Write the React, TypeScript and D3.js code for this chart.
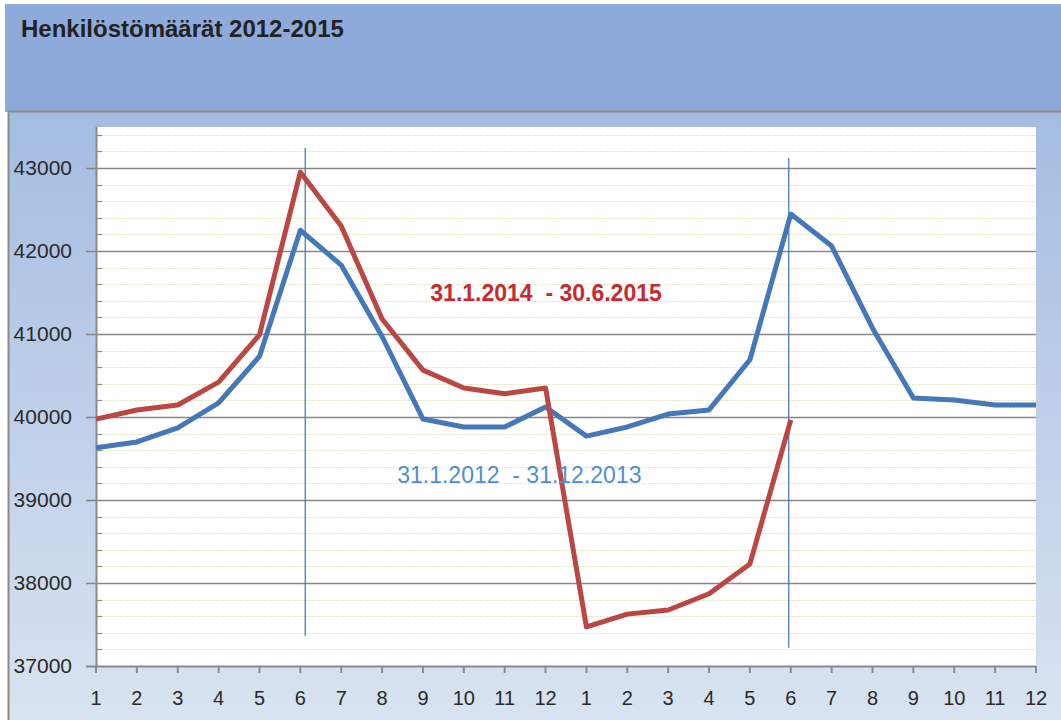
import { useEffect, useRef } from 'react';
import * as d3 from 'd3';

// Month labels along the x axis (two years side by side)
const monthLabels = ['1', '2', '3', '4', '5', '6', '7', '8', '9', '10', '11', '12',
    '1', '2', '3', '4', '5', '6', '7', '8', '9', '10', '11', '12'];

// 31.1.2012 - 31.12.2013
const blueValues = [39630, 39700, 39870, 40170, 40730, 42250, 41830, 40970, 39975, 39880, 39880, 40120,
    39770, 39880, 40035, 40085, 40690, 42445, 42060, 41070, 40230, 40205, 40145, 40145];

// 31.1.2014 - 30.6.2015
const redValues = [39975, 40085, 40145, 40420, 40990, 42950, 42300, 41180, 40565, 40350, 40280, 40350,
    37470, 37625, 37675, 37870, 38230, 39965];

const yMajorTicks = [37000, 38000, 39000, 40000, 41000, 42000, 43000];
const yMinorTicks = d3.range(37200, 43500, 200).filter((v) => v % 1000 !== 0);

// vertical marker lines: [category position, top value, bottom value]
const markers: [number, number, number][] = [
    [5.12, 43240, 37360],
    [16.95, 43120, 37220],
];

const seriesLabels = [
    { text: '31.1.2014  - 30.6.2015', pos: 8.18, value: 41400, color: '#c62a30', bold: true },
    { text: '31.1.2012  - 31.12.2013', pos: 7.37, value: 39200, color: '#4f8fd0', bold: false },
];

const title = 'Henkilöstömäärät 2012-2015';

export default function App() {
    const svgRef = useRef<SVGSVGElement>(null);
    const width = 1061;
    const height = 720;

    useEffect(() => {
        if (!svgRef.current) return;
        const svg = d3.select(svgRef.current);
        svg.selectAll('*').remove();

        const plot = { left: 96, right: 1036, top: 127, bottom: 666 };

        const x = d3.scaleLinear().domain([0, monthLabels.length - 1]).range([plot.left, plot.right]);
        const y = d3.scaleLinear().domain([37000, 43000]).range([plot.bottom, 168]);

        const defs = svg.append('defs');
        const grad = defs.append('linearGradient').attr('id', 'panelGrad').attr('x1', 0).attr('y1', 0).attr('x2', 0).attr('y2', 1);
        grad.append('stop').attr('offset', '0%').attr('stop-color', '#a4bce1');
        grad.append('stop').attr('offset', '100%').attr('stop-color', '#d9e3f1');

        // Header band
        svg.append('rect').attr('x', 0).attr('y', 0).attr('width', width).attr('height', height).attr('fill', '#ffffff');
        svg.append('rect').attr('x', 5).attr('y', 4).attr('width', width - 5).attr('height', 108).attr('fill', '#8eaadb');
        svg.append('text')
            .attr('x', 21)
            .attr('y', 37)
            .attr('font-family', 'Liberation Sans, Arial, sans-serif')
            .attr('font-size', 24)
            .attr('font-weight', 'bold')
            .attr('fill', '#222')
            .text(title);

        // Lower panel
        svg.append('rect').attr('x', 8).attr('y', 111).attr('width', width - 8).attr('height', height - 111).attr('fill', 'url(#panelGrad)');
        svg.append('path')
            .attr('d', `M8.5,${height} V111.5 H${width}`)
            .attr('fill', 'none')
            .attr('stroke', '#8a8a8a')
            .attr('stroke-width', 2);

        // Plot area
        svg.append('rect')
            .attr('x', plot.left)
            .attr('y', plot.top)
            .attr('width', plot.right - plot.left)
            .attr('height', plot.bottom - plot.top)
            .attr('fill', '#ffffff');

        const g = svg.append('g');

        // Minor gridlines
        g.selectAll('.minor')
            .data(yMinorTicks)
            .enter()
            .append('line')
            .attr('x1', plot.left)
            .attr('x2', plot.right)
            .attr('y1', (d) => Math.round(y(d)) + 0.5)
            .attr('y2', (d) => Math.round(y(d)) + 0.5)
            .attr('stroke', '#e2e8bf')
            .attr('stroke-width', 1.2)
            .attr('stroke-dasharray', '2,1');

        // minor ticks inside the axis
        g.selectAll('.minorTick')
            .data(yMinorTicks)
            .enter()
            .append('line')
            .attr('x1', plot.left)
            .attr('x2', plot.left + 6)
            .attr('y1', (d) => Math.round(y(d)) + 0.5)
            .attr('y2', (d) => Math.round(y(d)) + 0.5)
            .attr('stroke', '#8a8a8a')
            .attr('stroke-width', 1.2);

        // Major gridlines + ticks
        g.selectAll('.major')
            .data(yMajorTicks.filter((d) => d !== 37000))
            .enter()
            .append('line')
            .attr('x1', plot.left - 10)
            .attr('x2', plot.right)
            .attr('y1', (d) => Math.round(y(d)) + 0.5)
            .attr('y2', (d) => Math.round(y(d)) + 0.5)
            .attr('stroke', '#868686')
            .attr('stroke-width', 1.6);

        // Y labels
        g.selectAll('.ylab')
            .data(yMajorTicks)
            .enter()
            .append('text')
            .attr('x', 72)
            .attr('y', (d) => y(d) + 7)
            .attr('text-anchor', 'end')
            .attr('font-family', 'Liberation Sans, Arial, sans-serif')
            .attr('font-size', 21)
            .attr('fill', '#2a2a2a')
            .text((d) => d);

        // Axes lines
        g.append('line')
            .attr('x1', plot.left + 0.5).attr('x2', plot.left + 0.5)
            .attr('y1', plot.top).attr('y2', plot.bottom)
            .attr('stroke', '#8a8a8a').attr('stroke-width', 2);
        g.append('line')
            .attr('x1', plot.left - 10).attr('x2', plot.right)
            .attr('y1', plot.bottom + 0.5).attr('y2', plot.bottom + 0.5)
            .attr('stroke', '#8a8a8a').attr('stroke-width', 2);

        // X ticks and labels
        g.selectAll('.xtick')
            .data(monthLabels)
            .enter()
            .append('line')
            .attr('x1', (_, i) => x(i))
            .attr('x2', (_, i) => x(i))
            .attr('y1', plot.bottom)
            .attr('y2', plot.bottom + 7)
            .attr('stroke', '#8a8a8a')
            .attr('stroke-width', 2);

        g.selectAll('.xlab')
            .data(monthLabels)
            .enter()
            .append('text')
            .attr('x', (_, i) => x(i))
            .attr('y', 705)
            .attr('text-anchor', 'middle')
            .attr('font-family', 'Liberation Sans, Arial, sans-serif')
            .attr('font-size', 20)
            .attr('fill', '#2a2a2a')
            .text((d) => d);

        // Marker lines
        g.selectAll('.marker')
            .data(markers)
            .enter()
            .append('line')
            .attr('x1', (d) => x(d[0]))
            .attr('x2', (d) => x(d[0]))
            .attr('y1', (d) => y(d[1]))
            .attr('y2', (d) => y(d[2]))
            .attr('stroke', '#4a7ebb')
            .attr('stroke-width', 1.3);

        const line = d3
            .line<number>()
            .x((_, i) => x(i))
            .y((d) => y(d));

        g.append('path')
            .datum(blueValues)
            .attr('fill', 'none')
            .attr('stroke', '#4677b8')
            .attr('stroke-width', 5)
            .attr('stroke-linejoin', 'round')
            .attr('d', line);

        g.append('path')
            .datum(redValues)
            .attr('fill', 'none')
            .attr('stroke', '#bb4744')
            .attr('stroke-width', 5)
            .attr('stroke-linejoin', 'round')
            .attr('d', line);

        // Series labels
        g.selectAll('.slab')
            .data(seriesLabels)
            .enter()
            .append('text')
            .attr('x', (d) => x(d.pos))
            .attr('y', (d) => y(d.value))
            .attr('font-family', 'Liberation Sans, Arial, sans-serif')
            .attr('font-size', 23)
            .attr('font-weight', (d) => (d.bold ? 'bold' : 'normal'))
            .attr('fill', (d) => d.color)
            .attr('xml:space', 'preserve')
            .style('white-space', 'pre')
            .text((d) => d.text);
    }, []);

    return (
        <div style={{ position: 'absolute', left: 0, top: 0 }}>
            <svg ref={svgRef} width={width} height={height} style={{ display: 'block' }} />
        </div>
    );
}
